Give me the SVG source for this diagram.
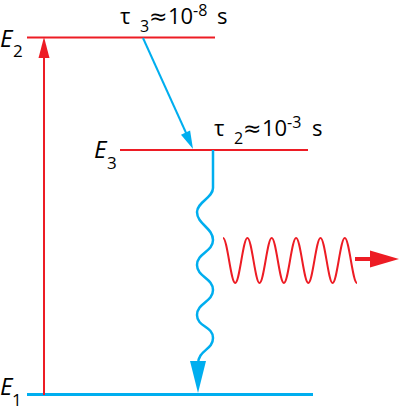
<svg xmlns="http://www.w3.org/2000/svg" width="400" height="410" viewBox="0 0 400 410">
<style>
.red{stroke:#ED1C24;fill:none}
.blue{stroke:#00AEEF;fill:none}
.rf{fill:#ED1C24}
.bf{fill:#00AEEF}
text{font-family:"Open Sans","Noto Sans","DejaVu Sans",sans-serif;fill:#000}
.E{font-size:24px;font-style:italic}
.sub{font-size:17px}
.t{font-size:22px}
.ts{font-size:16px}
.ap{font-family:"DejaVu Sans",sans-serif}
</style>
<rect width="400" height="410" fill="#fff"/>
<g id="level-E2">
<line class="red" x1="27" y1="37.5" x2="215" y2="37.5" stroke-width="2"/>
<text x="0" y="47" class="E">E</text><text x="13" y="57" class="sub">2</text>
</g>
<g id="level-E3">
<line class="red" x1="120" y1="150" x2="308" y2="150" stroke-width="2"/>
<text x="94" y="158" class="E">E</text><text x="107" y="169" class="sub">3</text>
</g>
<g id="level-E1">
<line class="blue" x1="27" y1="394.5" x2="313" y2="394.5" stroke-width="3"/>
<text x="0" y="395" class="E">E</text><text x="12" y="406" class="sub">1</text>
</g>
<g id="label-tau3">
<text x="120" y="24" class="t">τ</text><text x="140" y="32" class="ts">3</text><text x="149" y="24" class="t ap">≈</text><text x="168" y="24" class="t">10</text><text x="193" y="16" class="ts">-8</text><text x="217" y="24" class="t">s</text>
</g>
<g id="label-tau2">
<text x="214" y="136" class="t">τ</text><text x="234" y="144" class="ts">2</text><text x="243" y="136" class="t ap">≈</text><text x="262" y="136" class="t">10</text><text x="287" y="128" class="ts">-3</text><text x="312" y="136" class="t">s</text>
</g>
<g id="connectors">
<g id="pump">
<line class="red" x1="44" y1="395" x2="44" y2="55" stroke-width="2"/>
<polygon class="rf" points="38.5,58 44,37 49.5,58"/>
</g>
<g id="fast-decay">
<line class="blue" x1="143" y1="38" x2="187" y2="135" stroke-width="2"/>
<polygon class="bf" points="190.1,130.5 193,149 181,134.7"/>
</g>
<g id="slow-decay">
<path class="blue" stroke-width="2.5" d="M213,150 V188 C213,198 197,202 197,212 C197,224 213,228 213,240 C213,252 197,253 197,265 C197,277 213,278 213,290 C213,302 197,303 197,315 C197,327 213,326 213,338 C213,350 198,350 198,364"/>
<polygon class="bf" points="190,361 206,361 198,393"/>
</g>
<g id="photon">
<path class="red" stroke-width="2" d="M223,238 C227.4,238 230.8,283 235.2,283 C239.6,283 243.0,238 247.4,238 C251.8,238 255.2,283 259.5,283 C263.9,283 267.3,238 271.7,238 C276.1,238 279.5,283 283.9,283 C288.3,283 291.7,238 296.1,238 C300.5,238 303.9,283 308.3,283 C312.7,283 316.1,238 320.5,238 C324.9,238 328.3,283 332.6,283 C337.0,283 340.4,238 344.8,238 C349.2,238 352.6,283 357.0,283"/>
<line class="red" x1="355" y1="259" x2="372" y2="259" stroke-width="4"/>
<polygon class="rf" points="370,250.5 399,259 370,267.5"/>
</g>
</g>
</svg>
